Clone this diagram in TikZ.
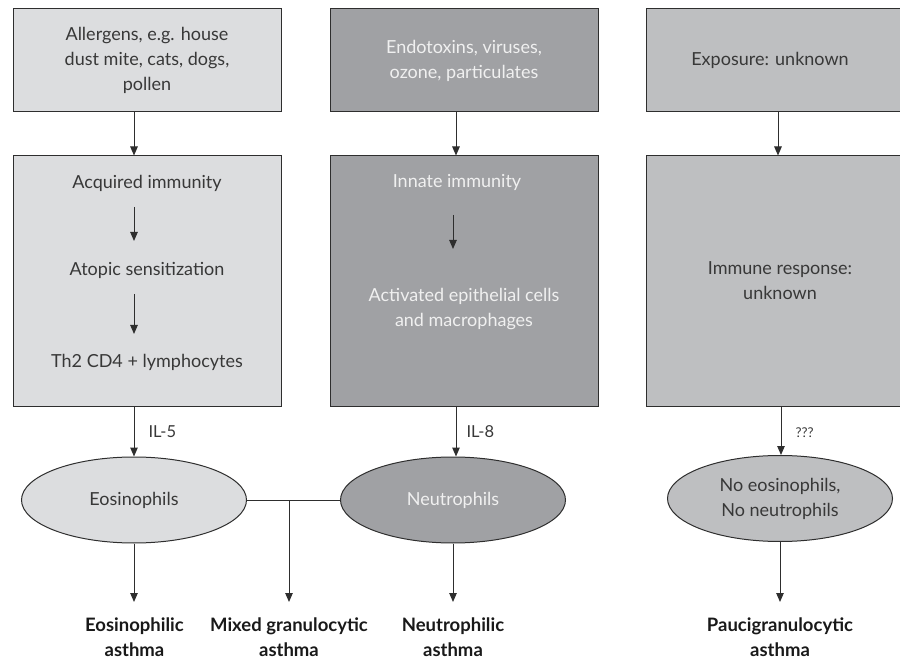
\documentclass[tikz,border=0pt]{standalone}
\usepackage{fontspec}
\setmainfont{Lato}
\usepackage{xcolor}
\usetikzlibrary{shapes.geometric,arrows.meta}

\definecolor{paleg}{HTML}{DCDDDF}
\definecolor{darkg}{HTML}{A0A1A4}
\definecolor{midg}{HTML}{BEBFC1}
\definecolor{ink}{HTML}{383838}
\definecolor{edge}{HTML}{2E2E2E}

\begin{document}
\begin{tikzpicture}[x=1pt,y=-1pt,
    >={Triangle[length=9pt,width=7.5pt]},
    font=\fontsize{18}{25}\selectfont, text=ink,
    box/.style={draw=edge, line width=1pt, minimum width=268pt, inner sep=0pt, align=center},
    cell/.style={ellipse, draw=edge, line width=1pt, minimum width=225pt, minimum height=86pt, inner sep=0pt, align=center},
    txt/.style={inner sep=0pt, align=center},
    lbl/.style={inner sep=0pt, anchor=west, font=\fontsize{16.5}{18}\selectfont},
    res/.style={inner sep=0pt, align=center, font=\fontsize{18.5}{25}\selectfont\bfseries, text=black!90},
    line/.style={draw=edge, line width=1pt}]
    \useasboundingbox (0,0) rectangle (900,660);

    % top row
    \node[box, fill=paleg, minimum height=103pt] (s1) at (147,60.5) {Allergens, e.g. house\\dust mite, cats, dogs,\\pollen};
    \node[box, fill=darkg, minimum height=103pt, text=white!94!black] (s2) at (464,60.5) {Endotoxins, viruses,\\ozone, particulates};
    \node[box, fill=midg, minimum height=103pt] (s3) at (780,60.5) {\hspace*{-20pt}Exposure: unknown};

    % middle row
    \node[box, fill=paleg, minimum height=250pt] (m1) at (147,281) {};
    \node[box, fill=darkg, minimum height=250pt] (m2) at (464,281) {};
    \node[box, fill=midg, minimum height=250pt] (m3) at (780,281) {Immune response:\\unknown};

    \node[txt] (a1) at (147,183) {Acquired immunity};
    \node[txt] (a2) at (147,270) {Atopic sensitization};
    \node[txt] (a3) at (147,362) {Th2 CD4 + lymphocytes};
    \node[txt, text=white!94!black] (b1) at (457,182) {Innate immunity};
    \node[txt, text=white!94!black] (b2) at (464,309) {Activated epithelial cells\\and macrophages};

    % cells
    \node[cell, fill=paleg] (eos) at (134,500) {Eosinophils};
    \node[cell, fill=darkg, text=white!94!black] (neu) at (453,500) {Neutrophils};
    \node[cell, fill=midg] (none) at (780,498.5) {No eosinophils,\\No neutrophils};
    \coordinate (mix) at (289,500);

    % outcomes
    \node[res] (r1) at (134.5,637) {Eosinophilic\\asthma};
    \node[res] (r2) at (289,637) {Mixed granulocytic\\asthma};
    \node[res] (r3) at (453,637) {Neutrophilic\\asthma};
    \node[res] (r4) at (780,637) {Paucigranulocytic\\asthma};

    \draw [line, ->] (s1.south -| eos) -- (m1.north -| eos);
    \draw [line, ->] (s2.south -| 456,0) -- (m2.north -| 456,0);
    \draw [line, ->] (s3.south -| 778,0) -- (m3.north -| 778,0);

    \draw [line, ->] (134,207) -- (134,241);
    \draw [line, ->] (134,294) -- (134,334);
    \draw [line, ->] (453,215) -- (453,249);

    \draw [line, ->] (m1.south -| eos) -- (eos.north) node[lbl, pos=0.5, xshift=14pt] {IL-5};
    \draw [line, ->] (m2.south -| 456,0) -- (neu.north -| 456,0) node[lbl, pos=0.5, xshift=10pt] {IL-8};
    \draw [line, ->] (m3.south -| 781,0) -- (none.north -| 781,0) node[lbl, pos=0.5, xshift=14pt, yshift=-2pt, font=\fontsize{13.5}{16}\selectfont] {???};

    \draw [line] (eos.east) -- (neu.west);
    \draw [line, ->] (mix) -- (mix |- 0,602);
    \draw [line, ->] (eos.south) -- (eos.south |- 0,602);
    \draw [line, ->] (neu.south) -- (neu.south |- 0,602);
    \draw [line, ->] (none.south) -- (none.south |- 0,602);
\end{tikzpicture}
\end{document}
